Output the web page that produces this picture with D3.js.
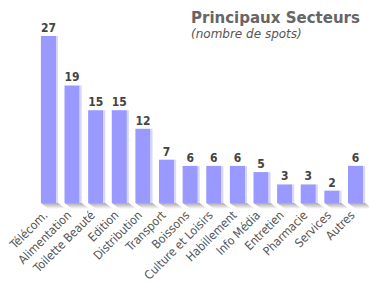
<!DOCTYPE html>
<html>
<head>
<meta charset="utf-8">
<script src="https://cdn.jsdelivr.net/npm/d3@7"></script>
<style>
  body { margin: 0; background: #fff; }
  svg { display: block; }
</style>
</head>
<body>
<svg id="chart" width="369" height="285"></svg>
<script>
// data
var secteurs = ['Télécom.', 'Alimentation', 'Toilette Beauté', 'Edition', 'Distribution', 'Transport',
    'Boissons', 'Culture et Loisirs', 'Habillement', 'Info Média', 'Entretien', 'Pharmacie', 'Services', 'Autres'];
var spots = [27, 19, 15, 15, 12, 7, 6, 6, 6, 5, 3, 3, 2, 6];

var titre = 'Principaux Secteurs';
var sousTitre = '(nombre de spots)';

var svg = d3.select('#chart');
var baseY = 203;

var x = d3.scaleBand()
    .domain(secteurs)
    .range([35, 369])
    .paddingInner(0.36)
    .paddingOuter(0.25);

var y = d3.scaleLinear()
    .domain([0, 27])
    .range([baseY, 36]);

var defs = svg.append('defs');
var grad = defs.append('linearGradient').attr('id', 'floor')
    .attr('x1', 0).attr('y1', 0).attr('x2', 0).attr('y2', 1);
grad.append('stop').attr('offset', 0).attr('stop-color', '#aaaaaa');
grad.append('stop').attr('offset', 1).attr('stop-color', '#ffffff');

// title
svg.append('text')
    .attr('x', 191).attr('y', 23)
    .style('font-family', 'Verdana, "DejaVu Sans", sans-serif')
    .style('font-weight', 'bold')
    .style('font-size', '15px')
    .style('fill', '#666')
    .text(titre);

svg.append('text')
    .attr('x', 191).attr('y', 38)
    .style('font-family', 'Verdana, "DejaVu Sans", sans-serif')
    .style('font-style', 'italic')
    .style('font-size', '12px')
    .style('fill', '#555')
    .text(sousTitre);

var g = svg.selectAll('.secteur')
    .data(secteurs)
    .enter().append('g')
    .attr('class', 'secteur');

// floor shadow under each bar
g.append('path')
    .attr('d', function(d) {
        var x0 = x(d), w = x.bandwidth();
        return 'M' + x0 + ',' + baseY + 'H' + (x0 + w + 2) + 'l8,6H' + (x0 + 8) + 'Z';
    })
    .style('fill', 'url(#floor)');

// bars
g.append('rect')
    .attr('x', function(d) { return x(d); })
    .attr('y', function(d, i) { return y(spots[i]); })
    .attr('width', x.bandwidth())
    .attr('height', function(d, i) { return baseY - y(spots[i]); })
    .style('fill', '#9999ff');

// light right edge
g.append('rect')
    .attr('x', function(d) { return x(d) + x.bandwidth(); })
    .attr('y', function(d, i) { return y(spots[i]); })
    .attr('width', 2)
    .attr('height', function(d, i) { return baseY - y(spots[i]); })
    .style('fill', '#d6d6ff');

// value labels
g.append('text')
    .attr('x', function(d) { return x(d) + x.bandwidth() / 2; })
    .attr('y', function(d, i) { return y(spots[i]) - 4; })
    .attr('text-anchor', 'middle')
    .style('font-family', '"DejaVu Sans Condensed", sans-serif')
    .style('font-stretch', 'condensed')
    .style('font-weight', 'bold')
    .style('font-size', '12px')
    .style('fill', '#444')
    .text(function(d, i) { return spots[i]; });

// category labels
g.append('text')
    .attr('transform', function(d) {
        return 'translate(' + (x(d) + x.bandwidth() / 2 - 3) + ',' + (baseY + 10) + ') rotate(-45)';
    })
    .attr('text-anchor', 'end')
    .attr('dy', '0.35em')
    .style('font-family', '"DejaVu Sans Condensed", sans-serif')
    .style('font-stretch', 'condensed')
    .style('font-size', '12px')
    .style('fill', '#555')
    .text(function(d) { return d; });
</script>
</body>
</html>
